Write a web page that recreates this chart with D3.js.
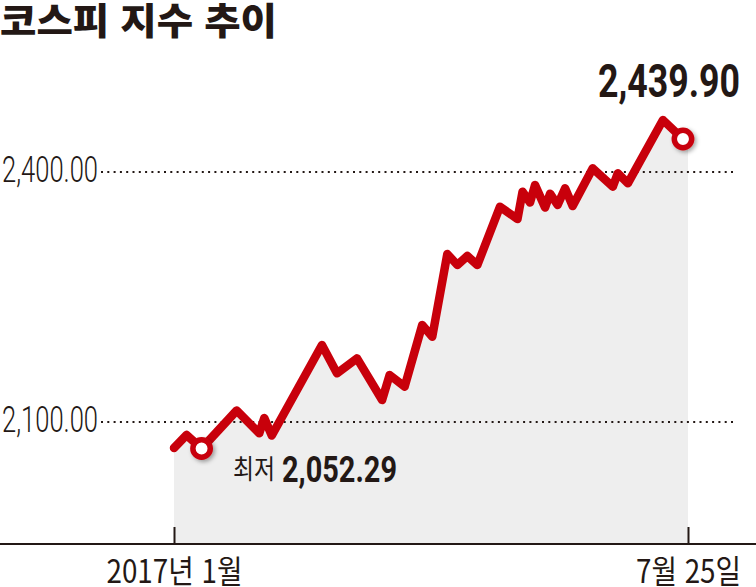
<!DOCTYPE html>
<html lang="ko">
<head>
<meta charset="utf-8">
<script src="https://cdn.jsdelivr.net/npm/d3@7"></script>
<style>
    html, body { margin: 0; padding: 0; background: #fff; }
    #chart { width: 756px; height: 587px; }
    text { fill: #231815; }
</style>
</head>
<body>
<div id="chart"></div>
<script>
// KOSPI closing points
const dates = [
    '2017-01-01', '2017-01-06', '2017-01-12', '2017-01-26', '2017-02-04',
    '2017-02-06', '2017-02-09', '2017-03-01', '2017-03-07', '2017-03-15',
    '2017-03-25', '2017-03-28', '2017-04-03', '2017-04-10', '2017-04-14',
    '2017-04-20', '2017-04-24', '2017-04-28', '2017-05-02', '2017-05-11',
    '2017-05-18', '2017-05-20', '2017-05-23', '2017-05-25', '2017-05-29',
    '2017-05-31', '2017-06-03', '2017-06-06', '2017-06-09', '2017-06-17',
    '2017-06-25', '2017-06-27', '2017-07-01', '2017-07-15', '2017-07-23'
];
const values = [
    2068.8, 2084.4, 2068.2, 2113.8, 2086.4,
    2104.8, 2083.8, 2192.4, 2158.4, 2176.4,
    2126.4, 2156.4, 2142.4, 2216.4, 2202.4,
    2301.6, 2288.4, 2299.2, 2288.4, 2358.4,
    2343.6, 2376.4, 2363.4, 2384.4, 2357.4,
    2374.0, 2360.4, 2380.4, 2359.2, 2404.4,
    2382.4, 2398.4, 2386.4, 2462.4, 2439.6
];
const yTicks = [2100, 2400];
const xTickDates = ['2017-01-01', '2017-07-25'];
const xTickLabels = ['2017년 1월', '7월 25일'];
const lowLabel = '2,052.29';
const highLabel = '2,439.90';
const lowIndex = 2;
const highIndex = values.length - 1;

const parseDate = d3.timeParse('%Y-%m-%d');

function createChart() {
    const width = 756;
    const height = 587;
    const baseY = 544;
    const red = '#c8000b';

    const data = dates.map((d, i) => ({ date: parseDate(d), value: values[i] }));

    const svg = d3.select('#chart')
        .append('svg')
        .attr('width', width)
        .attr('height', height);

    const defs = svg.append('defs');
    defs.append('filter')
        .attr('id', 'shadow')
        .attr('x', '-50%').attr('y', '-50%')
        .attr('width', '200%').attr('height', '200%')
        .append('feDropShadow')
        .attr('dx', 2).attr('dy', 2)
        .attr('stdDeviation', 2)
        .attr('flood-color', '#000')
        .attr('flood-opacity', 0.35);

    const xScale = d3.scaleTime()
        .domain(d3.extent(xTickDates, parseDate))
        .range([174, 688]);

    const yScale = d3.scaleLinear()
        .domain([2100, 2400])
        .range([422, 172]);

    // title
    svg.append('text')
        .attr('x', 0)
        .attr('y', 35)
        .attr('textLength', 277)
        .attr('lengthAdjust', 'spacingAndGlyphs')
        .style('font-family', '"Noto Sans CJK KR", sans-serif')
        .style('font-weight', 900)
        .style('font-size', '37px')
        .text('코스피 지수 추이');

    // gray area, carried to the right end of the x domain
    const areaData = data.concat([{ date: xScale.domain()[1], value: values[highIndex] }]);
    const area = d3.area()
        .x(d => xScale(d.date))
        .y0(baseY)
        .y1(d => yScale(d.value));

    svg.append('path')
        .datum(areaData)
        .attr('d', area)
        .attr('fill', '#eeeeee');

    // dotted grid lines and value labels
    const fmt = d3.format(',.2f');
    const grid = svg.append('g');
    grid.selectAll('line')
        .data(yTicks)
        .join('line')
        .attr('x1', 101)
        .attr('x2', 734)
        .attr('y1', d => yScale(d))
        .attr('y2', d => yScale(d))
        .attr('stroke', '#231815')
        .attr('stroke-width', 2)
        .attr('stroke-dasharray', '2 4.3');

    grid.selectAll('text')
        .data(yTicks)
        .join('text')
        .attr('x', 2)
        .attr('y', d => yScale(d) + 10)
        .attr('textLength', 96)
        .attr('lengthAdjust', 'spacingAndGlyphs')
        .style('font-family', 'Roboto, sans-serif')
        .style('font-weight', 300)
        .style('font-size', '36px')
        .text(d => fmt(d));

    // x axis
    const xAxis = d3.axisBottom(xScale)
        .tickValues(xTickDates.map(parseDate))
        .tickFormat((d, i) => xTickLabels[i])
        .tickSizeInner(-17)
        .tickSizeOuter(0)
        .tickPadding(0);

    const gx = svg.append('g')
        .attr('transform', `translate(0,${baseY})`)
        .call(xAxis);

    gx.select('.domain').remove();
    gx.selectAll('.tick line')
        .attr('stroke', '#231815')
        .attr('stroke-width', 2);
    gx.selectAll('.tick text')
        .attr('y', 39)
        .attr('dy', null)
        .attr('fill', '#231815')
        .attr('textLength', (d, i) => i === 0 ? 136 : 105)
        .attr('lengthAdjust', 'spacingAndGlyphs')
        .style('font-family', '"Noto Sans CJK KR", sans-serif')
        .style('font-size', '32px');

    svg.append('line')
        .attr('x1', 0)
        .attr('x2', width)
        .attr('y1', baseY)
        .attr('y2', baseY)
        .attr('stroke', '#231815')
        .attr('stroke-width', 2);

    // red line
    const line = d3.line()
        .x(d => xScale(d.date))
        .y(d => yScale(d.value));

    svg.append('path')
        .datum(data)
        .attr('d', line)
        .attr('fill', 'none')
        .attr('stroke', red)
        .attr('stroke-width', 8.5)
        .attr('stroke-linejoin', 'round')
        .attr('stroke-linecap', 'round');

    // low / high markers
    svg.append('g')
        .selectAll('circle')
        .data([data[lowIndex], data[highIndex]])
        .join('circle')
        .attr('cx', d => xScale(d.date))
        .attr('cy', d => yScale(d.value))
        .attr('r', 8.7)
        .attr('fill', '#fff')
        .attr('stroke', red)
        .attr('stroke-width', 5.5)
        .attr('filter', 'url(#shadow)');

    // annotations
    svg.append('text')
        .attr('x', 233)
        .attr('y', 479)
        .attr('textLength', 42)
        .attr('lengthAdjust', 'spacingAndGlyphs')
        .style('font-family', '"Noto Sans CJK KR", sans-serif')
        .style('font-size', '27px')
        .text('최저');

    svg.append('text')
        .attr('x', 282)
        .attr('y', 481.5)
        .attr('textLength', 115)
        .attr('lengthAdjust', 'spacingAndGlyphs')
        .style('font-family', 'Roboto, sans-serif')
        .style('font-weight', 700)
        .style('font-size', '37px')
        .text(lowLabel);

    svg.append('text')
        .attr('x', 598)
        .attr('y', 97)
        .attr('textLength', 142)
        .attr('lengthAdjust', 'spacingAndGlyphs')
        .style('font-family', 'Roboto, sans-serif')
        .style('font-weight', 700)
        .style('font-size', '47px')
        .text(highLabel);
}

document.addEventListener('DOMContentLoaded', createChart);
</script>
</body>
</html>
